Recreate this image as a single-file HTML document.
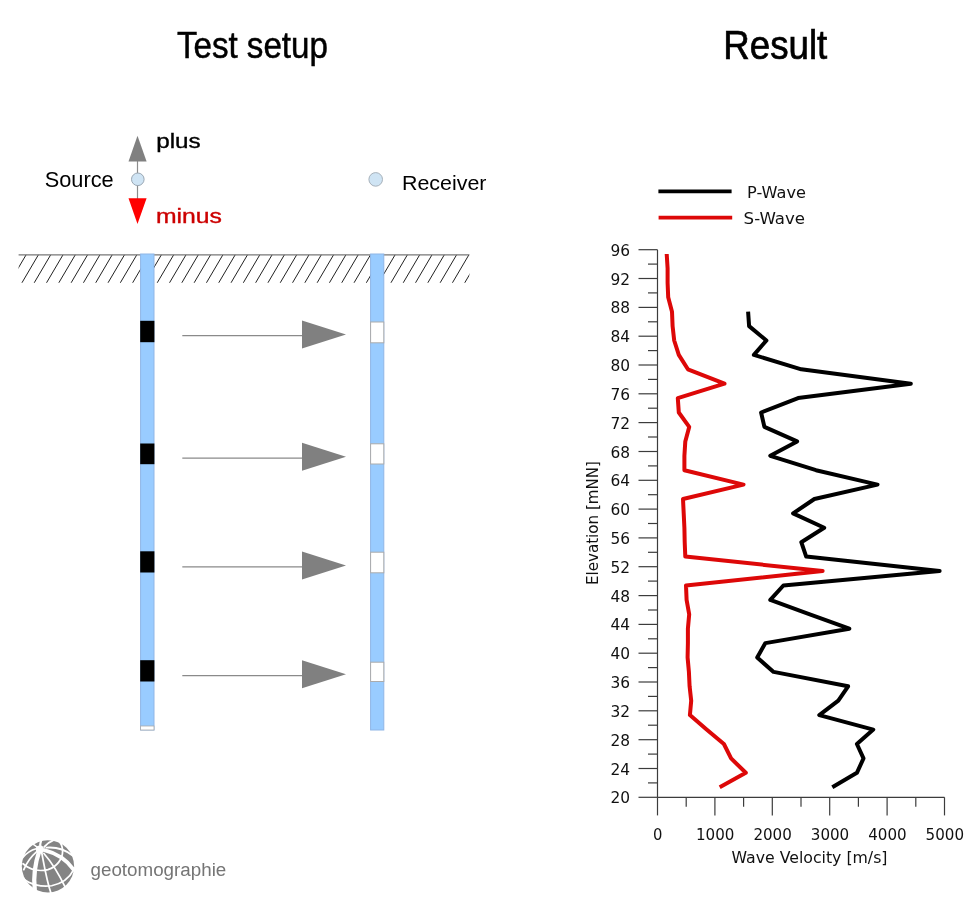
<!DOCTYPE html>
<html lang="en"><head><meta charset="utf-8"><title>Test setup / Result</title>
<style>
html,body{margin:0;padding:0;background:#fff;}
svg{display:block;}
.t{font-family:"Liberation Sans",Arial,sans-serif;fill:#000;}
.c{font-family:"DejaVu Sans","Liberation Sans",sans-serif;fill:#111;font-size:16px;}
</style></head><body>
<svg width="980" height="901" viewBox="0 0 980 901">
<rect width="980" height="901" fill="#fff"/>

<text class="t" x="176.9" y="57.6" font-size="36" textLength="151" lengthAdjust="spacingAndGlyphs" stroke="#000" stroke-width="0.5">Test setup</text>
<text class="t" x="723.3" y="59.3" font-size="40.4" textLength="104" lengthAdjust="spacingAndGlyphs" stroke="#000" stroke-width="0.7">Result</text>
<g>
<line x1="137.5" y1="160" x2="137.5" y2="200" stroke="#8c8c8c" stroke-width="1.2"/>
<polygon points="137.5,135.7 128.5,161.4 146.6,161.4" fill="#808080"/>
<polygon points="128.5,198.2 146.6,198.2 137.5,224" fill="#ff0000"/>
<circle cx="137.8" cy="179.3" r="6.3" fill="#cfe4f4" stroke="#9aa7b3" stroke-width="1"/>
<circle cx="375.7" cy="179.4" r="6.8" fill="#cfe4f4" stroke="#a8b2bb" stroke-width="1"/>
</g>
<text class="t" x="156.2" y="147.6" font-size="19.6" textLength="44.5" lengthAdjust="spacingAndGlyphs" stroke="#000" stroke-width="0.35">plus</text>
<text class="t" x="156" y="223.1" font-size="19.6" textLength="66" lengthAdjust="spacingAndGlyphs" stroke="#cc0000" stroke-width="0.35" style="fill:#cc0000">minus</text>
<text class="t" x="44.7" y="186.7" font-size="21.5" textLength="69" lengthAdjust="spacingAndGlyphs">Source</text>
<text class="t" x="402" y="189.5" font-size="20" textLength="84.5" lengthAdjust="spacingAndGlyphs">Receiver</text>
<defs><clipPath id="hc"><rect x="18.6" y="254" width="450.8" height="28.7"/></clipPath></defs>
<g clip-path="url(#hc)" stroke="#222" stroke-width="1">
<line x1="13.8" y1="254.8" x2="-2.8" y2="283"/>
<line x1="26.1" y1="254.8" x2="9.5" y2="283"/>
<line x1="38.4" y1="254.8" x2="21.8" y2="283"/>
<line x1="50.7" y1="254.8" x2="34.1" y2="283"/>
<line x1="63.0" y1="254.8" x2="46.4" y2="283"/>
<line x1="75.3" y1="254.8" x2="58.7" y2="283"/>
<line x1="87.6" y1="254.8" x2="71.0" y2="283"/>
<line x1="99.9" y1="254.8" x2="83.3" y2="283"/>
<line x1="112.2" y1="254.8" x2="95.6" y2="283"/>
<line x1="124.5" y1="254.8" x2="107.9" y2="283"/>
<line x1="136.8" y1="254.8" x2="120.2" y2="283"/>
<line x1="149.1" y1="254.8" x2="132.5" y2="283"/>
<line x1="161.4" y1="254.8" x2="144.8" y2="283"/>
<line x1="173.7" y1="254.8" x2="157.1" y2="283"/>
<line x1="186.0" y1="254.8" x2="169.4" y2="283"/>
<line x1="198.3" y1="254.8" x2="181.7" y2="283"/>
<line x1="210.6" y1="254.8" x2="194.0" y2="283"/>
<line x1="222.9" y1="254.8" x2="206.3" y2="283"/>
<line x1="235.2" y1="254.8" x2="218.6" y2="283"/>
<line x1="247.5" y1="254.8" x2="230.9" y2="283"/>
<line x1="259.8" y1="254.8" x2="243.2" y2="283"/>
<line x1="272.1" y1="254.8" x2="255.5" y2="283"/>
<line x1="284.4" y1="254.8" x2="267.8" y2="283"/>
<line x1="296.7" y1="254.8" x2="280.1" y2="283"/>
<line x1="309.0" y1="254.8" x2="292.4" y2="283"/>
<line x1="321.3" y1="254.8" x2="304.7" y2="283"/>
<line x1="333.6" y1="254.8" x2="317.0" y2="283"/>
<line x1="345.9" y1="254.8" x2="329.3" y2="283"/>
<line x1="358.2" y1="254.8" x2="341.6" y2="283"/>
<line x1="370.5" y1="254.8" x2="353.9" y2="283"/>
<line x1="382.8" y1="254.8" x2="366.2" y2="283"/>
<line x1="395.1" y1="254.8" x2="378.5" y2="283"/>
<line x1="407.4" y1="254.8" x2="390.8" y2="283"/>
<line x1="419.7" y1="254.8" x2="403.1" y2="283"/>
<line x1="432.0" y1="254.8" x2="415.4" y2="283"/>
<line x1="444.3" y1="254.8" x2="427.7" y2="283"/>
<line x1="456.6" y1="254.8" x2="440.0" y2="283"/>
<line x1="468.9" y1="254.8" x2="452.3" y2="283"/>
<line x1="481.2" y1="254.8" x2="464.6" y2="283"/>
<line x1="493.5" y1="254.8" x2="476.9" y2="283"/>
</g>
<line x1="18.6" y1="254.8" x2="469.4" y2="254.8" stroke="#777" stroke-width="1.2"/>
<rect x="140.6" y="254" width="13.4" height="476" fill="#99ccff" stroke="#8fb6e6" stroke-width="1"/>
<rect x="140.2" y="320.8" width="14.2" height="21.4" fill="#000"/>
<rect x="140.2" y="443.5" width="14.2" height="20.7" fill="#000"/>
<rect x="140.2" y="551.3" width="14.2" height="21.2" fill="#000"/>
<rect x="140.2" y="660.2" width="14.2" height="21.3" fill="#000"/>
<rect x="140.6" y="726" width="13.4" height="4" fill="#fff" stroke="#aaa" stroke-width="0.8"/>
<rect x="370.6" y="254" width="13.2" height="476" fill="#99ccff" stroke="#8fb6e6" stroke-width="1"/>
<rect x="370.6" y="322" width="13.2" height="20.8" fill="#fff" stroke="#ababab" stroke-width="1"/>
<rect x="370.6" y="443.8" width="13.2" height="20.2" fill="#fff" stroke="#ababab" stroke-width="1"/>
<rect x="370.6" y="552.2" width="13.2" height="20.6" fill="#fff" stroke="#ababab" stroke-width="1"/>
<rect x="370.6" y="662.2" width="13.2" height="19.3" fill="#fff" stroke="#ababab" stroke-width="1"/>
<line x1="182.3" y1="335.7" x2="304" y2="335.7" stroke="#8a8a8a" stroke-width="1.2"/>
<polygon points="302,320.6 346,334.6 302,348.6" fill="#808080"/>
<line x1="182.3" y1="458.2" x2="304" y2="458.2" stroke="#8a8a8a" stroke-width="1.2"/>
<polygon points="302,442.8 346,456.8 302,470.8" fill="#808080"/>
<line x1="182.3" y1="566.9" x2="304" y2="566.9" stroke="#8a8a8a" stroke-width="1.2"/>
<polygon points="302,551.5 346,565.5 302,579.5" fill="#808080"/>
<line x1="182.3" y1="675.6" x2="304" y2="675.6" stroke="#8a8a8a" stroke-width="1.2"/>
<polygon points="302,660.2 346,674.2 302,688.2" fill="#808080"/>
<g transform="translate(15,833) scale(0.07326)">
<circle cx="450" cy="455" r="357" fill="#848484"/>
<g fill="none" stroke="#fff" stroke-linecap="round">
<path d="M335,235 C285,380 245,560 270,770" stroke-width="58"/>
<path d="M400,235 C540,270 700,360 800,500" stroke-width="52"/>
<path d="M365,270 C400,450 430,640 490,820" stroke-width="24"/>
<path d="M395,280 C500,400 600,560 690,750" stroke-width="24"/>
<path d="M430,200 C560,190 690,230 790,310" stroke-width="26"/>
<path d="M300,250 C220,320 160,400 120,500" stroke-width="24"/>
<path d="M290,215 C210,235 150,280 100,340" stroke-width="24"/>
<path d="M345,210 C340,170 345,130 360,90" stroke-width="30"/>
<path d="M310,200 C280,170 250,150 210,140" stroke-width="22"/>
<path d="M400,190 C430,150 470,120 520,100" stroke-width="26"/>
<path d="M110,420 C200,500 330,530 450,500 C570,460 650,360 650,250 C650,190 630,140 600,110" stroke-width="24"/>
<path d="M110,620 C200,700 350,740 500,720 C640,690 740,620 795,510" stroke-width="24"/>
</g>
<circle cx="340" cy="225" r="55" fill="#fff"/>
</g>
<text class="t" x="90.5" y="876" font-size="18.8" textLength="135.8" lengthAdjust="spacingAndGlyphs" style="fill:#757575">geotomographie</text>
<g stroke="#3c3c3c" stroke-width="1.2" fill="none">
<line x1="657.5" y1="249.7" x2="657.5" y2="797.3"/>
<line x1="657.5" y1="797.3" x2="944.5" y2="797.3"/>
<line x1="638.5" y1="797.3" x2="657.5" y2="797.3"/>
<line x1="648" y1="782.9" x2="657.5" y2="782.9"/>
<line x1="638.5" y1="768.5" x2="657.5" y2="768.5"/>
<line x1="648" y1="754.1" x2="657.5" y2="754.1"/>
<line x1="638.5" y1="739.7" x2="657.5" y2="739.7"/>
<line x1="648" y1="725.2" x2="657.5" y2="725.2"/>
<line x1="638.5" y1="710.8" x2="657.5" y2="710.8"/>
<line x1="648" y1="696.4" x2="657.5" y2="696.4"/>
<line x1="638.5" y1="682.0" x2="657.5" y2="682.0"/>
<line x1="648" y1="667.6" x2="657.5" y2="667.6"/>
<line x1="638.5" y1="653.2" x2="657.5" y2="653.2"/>
<line x1="648" y1="638.8" x2="657.5" y2="638.8"/>
<line x1="638.5" y1="624.4" x2="657.5" y2="624.4"/>
<line x1="648" y1="610.0" x2="657.5" y2="610.0"/>
<line x1="638.5" y1="595.6" x2="657.5" y2="595.6"/>
<line x1="648" y1="581.1" x2="657.5" y2="581.1"/>
<line x1="638.5" y1="566.7" x2="657.5" y2="566.7"/>
<line x1="648" y1="552.3" x2="657.5" y2="552.3"/>
<line x1="638.5" y1="537.9" x2="657.5" y2="537.9"/>
<line x1="648" y1="523.5" x2="657.5" y2="523.5"/>
<line x1="638.5" y1="509.1" x2="657.5" y2="509.1"/>
<line x1="648" y1="494.7" x2="657.5" y2="494.7"/>
<line x1="638.5" y1="480.3" x2="657.5" y2="480.3"/>
<line x1="648" y1="465.9" x2="657.5" y2="465.9"/>
<line x1="638.5" y1="451.5" x2="657.5" y2="451.5"/>
<line x1="648" y1="437.0" x2="657.5" y2="437.0"/>
<line x1="638.5" y1="422.6" x2="657.5" y2="422.6"/>
<line x1="648" y1="408.2" x2="657.5" y2="408.2"/>
<line x1="638.5" y1="393.8" x2="657.5" y2="393.8"/>
<line x1="648" y1="379.4" x2="657.5" y2="379.4"/>
<line x1="638.5" y1="365.0" x2="657.5" y2="365.0"/>
<line x1="648" y1="350.6" x2="657.5" y2="350.6"/>
<line x1="638.5" y1="336.2" x2="657.5" y2="336.2"/>
<line x1="648" y1="321.8" x2="657.5" y2="321.8"/>
<line x1="638.5" y1="307.4" x2="657.5" y2="307.4"/>
<line x1="648" y1="292.9" x2="657.5" y2="292.9"/>
<line x1="638.5" y1="278.5" x2="657.5" y2="278.5"/>
<line x1="648" y1="264.1" x2="657.5" y2="264.1"/>
<line x1="638.5" y1="249.7" x2="657.5" y2="249.7"/>
<line x1="657.5" y1="797.3" x2="657.5" y2="815.4"/>
<line x1="686.2" y1="797.3" x2="686.2" y2="806.7"/>
<line x1="714.9" y1="797.3" x2="714.9" y2="815.4"/>
<line x1="743.6" y1="797.3" x2="743.6" y2="806.7"/>
<line x1="772.3" y1="797.3" x2="772.3" y2="815.4"/>
<line x1="801.0" y1="797.3" x2="801.0" y2="806.7"/>
<line x1="829.7" y1="797.3" x2="829.7" y2="815.4"/>
<line x1="858.4" y1="797.3" x2="858.4" y2="806.7"/>
<line x1="887.1" y1="797.3" x2="887.1" y2="815.4"/>
<line x1="915.8" y1="797.3" x2="915.8" y2="806.7"/>
<line x1="944.5" y1="797.3" x2="944.5" y2="815.4"/>
</g>
<text class="c" x="630" y="803.3" text-anchor="end" textLength="19.6" lengthAdjust="spacingAndGlyphs">20</text>
<text class="c" x="630" y="774.5" text-anchor="end" textLength="19.6" lengthAdjust="spacingAndGlyphs">24</text>
<text class="c" x="630" y="745.7" text-anchor="end" textLength="19.6" lengthAdjust="spacingAndGlyphs">28</text>
<text class="c" x="630" y="716.8" text-anchor="end" textLength="19.6" lengthAdjust="spacingAndGlyphs">32</text>
<text class="c" x="630" y="688.0" text-anchor="end" textLength="19.6" lengthAdjust="spacingAndGlyphs">36</text>
<text class="c" x="630" y="659.2" text-anchor="end" textLength="19.6" lengthAdjust="spacingAndGlyphs">40</text>
<text class="c" x="630" y="630.4" text-anchor="end" textLength="19.6" lengthAdjust="spacingAndGlyphs">44</text>
<text class="c" x="630" y="601.6" text-anchor="end" textLength="19.6" lengthAdjust="spacingAndGlyphs">48</text>
<text class="c" x="630" y="572.7" text-anchor="end" textLength="19.6" lengthAdjust="spacingAndGlyphs">52</text>
<text class="c" x="630" y="543.9" text-anchor="end" textLength="19.6" lengthAdjust="spacingAndGlyphs">56</text>
<text class="c" x="630" y="515.1" text-anchor="end" textLength="19.6" lengthAdjust="spacingAndGlyphs">60</text>
<text class="c" x="630" y="486.3" text-anchor="end" textLength="19.6" lengthAdjust="spacingAndGlyphs">64</text>
<text class="c" x="630" y="457.5" text-anchor="end" textLength="19.6" lengthAdjust="spacingAndGlyphs">68</text>
<text class="c" x="630" y="428.6" text-anchor="end" textLength="19.6" lengthAdjust="spacingAndGlyphs">72</text>
<text class="c" x="630" y="399.8" text-anchor="end" textLength="19.6" lengthAdjust="spacingAndGlyphs">76</text>
<text class="c" x="630" y="371.0" text-anchor="end" textLength="19.6" lengthAdjust="spacingAndGlyphs">80</text>
<text class="c" x="630" y="342.2" text-anchor="end" textLength="19.6" lengthAdjust="spacingAndGlyphs">84</text>
<text class="c" x="630" y="313.4" text-anchor="end" textLength="19.6" lengthAdjust="spacingAndGlyphs">88</text>
<text class="c" x="630" y="284.5" text-anchor="end" textLength="19.6" lengthAdjust="spacingAndGlyphs">92</text>
<text class="c" x="630" y="255.7" text-anchor="end" textLength="19.6" lengthAdjust="spacingAndGlyphs">96</text>
<text class="c" x="657.8" y="840.2" text-anchor="middle" textLength="9.4" lengthAdjust="spacingAndGlyphs">0</text>
<text class="c" x="715.2" y="840.2" text-anchor="middle" textLength="38.4" lengthAdjust="spacingAndGlyphs">1000</text>
<text class="c" x="772.6" y="840.2" text-anchor="middle" textLength="38.4" lengthAdjust="spacingAndGlyphs">2000</text>
<text class="c" x="830.0" y="840.2" text-anchor="middle" textLength="38.4" lengthAdjust="spacingAndGlyphs">3000</text>
<text class="c" x="887.4" y="840.2" text-anchor="middle" textLength="38.4" lengthAdjust="spacingAndGlyphs">4000</text>
<text class="c" x="944.8" y="840.2" text-anchor="middle" textLength="38.4" lengthAdjust="spacingAndGlyphs">5000</text>
<text class="c" x="809.5" y="862.6" text-anchor="middle" textLength="156" lengthAdjust="spacingAndGlyphs">Wave Velocity [m/s]</text>
<text class="c" transform="translate(598,523) rotate(-90)" text-anchor="middle" textLength="124" lengthAdjust="spacingAndGlyphs">Elevation [mNN]</text>
<line x1="658.4" y1="191.4" x2="731.6" y2="191.4" stroke="#000" stroke-width="3.7"/>
<line x1="658.6" y1="217.6" x2="732.2" y2="217.6" stroke="#dd0808" stroke-width="3.7"/>
<text class="c" x="747" y="197.6" font-size="15.4" style="font-size:15.4px" textLength="59" lengthAdjust="spacingAndGlyphs">P-Wave</text>
<text class="c" x="743.6" y="224.1" style="font-size:15.4px" textLength="61.5" lengthAdjust="spacingAndGlyphs">S-Wave</text>
<polyline points="748.1,311.7 749.1,326.1 766.4,340.5 753.9,354.9 801.3,369.3 910.8,383.7 798.1,398.1 761.1,412.5 764.4,426.9 797.1,441.4 770.3,455.8 816.0,470.2 877.5,484.6 814.4,499.0 793.1,513.4 824.2,527.8 801.3,542.2 806.2,556.6 939.6,571.0 783.4,585.5 770.3,599.9 809.8,614.3 849.3,628.7 765.4,643.1 757.2,657.5 773.6,671.9 848.1,686.3 838.3,700.7 819.3,715.1 873.3,729.6 856.9,744.0 863.5,758.4 856.9,772.8 832.3,787.2" fill="none" stroke="#000" stroke-width="4" stroke-linejoin="round" stroke-linecap="butt"/>
<polyline points="666.7,254.0 667.6,268.4 667.6,282.8 668.2,297.3 672.0,311.7 672.6,326.1 674.2,340.5 678.8,354.9 687.9,369.3 724.5,383.7 677.8,398.1 678.8,412.5 689.2,426.9 685.3,441.4 684.4,455.8 684.4,470.2 743.5,484.6 683.0,499.0 683.7,513.4 684.4,527.8 684.7,542.2 685.3,556.6 822.6,571.0 686.0,585.5 686.6,599.9 689.2,614.3 687.9,628.7 687.9,643.1 687.6,657.5 688.9,671.9 689.6,686.3 691.2,700.7 689.9,715.1 706.6,729.6 723.9,744.0 731.1,758.4 745.8,772.8 719.7,787.2" fill="none" stroke="#dd0808" stroke-width="4" stroke-linejoin="round" stroke-linecap="butt"/>
</svg></body></html>
